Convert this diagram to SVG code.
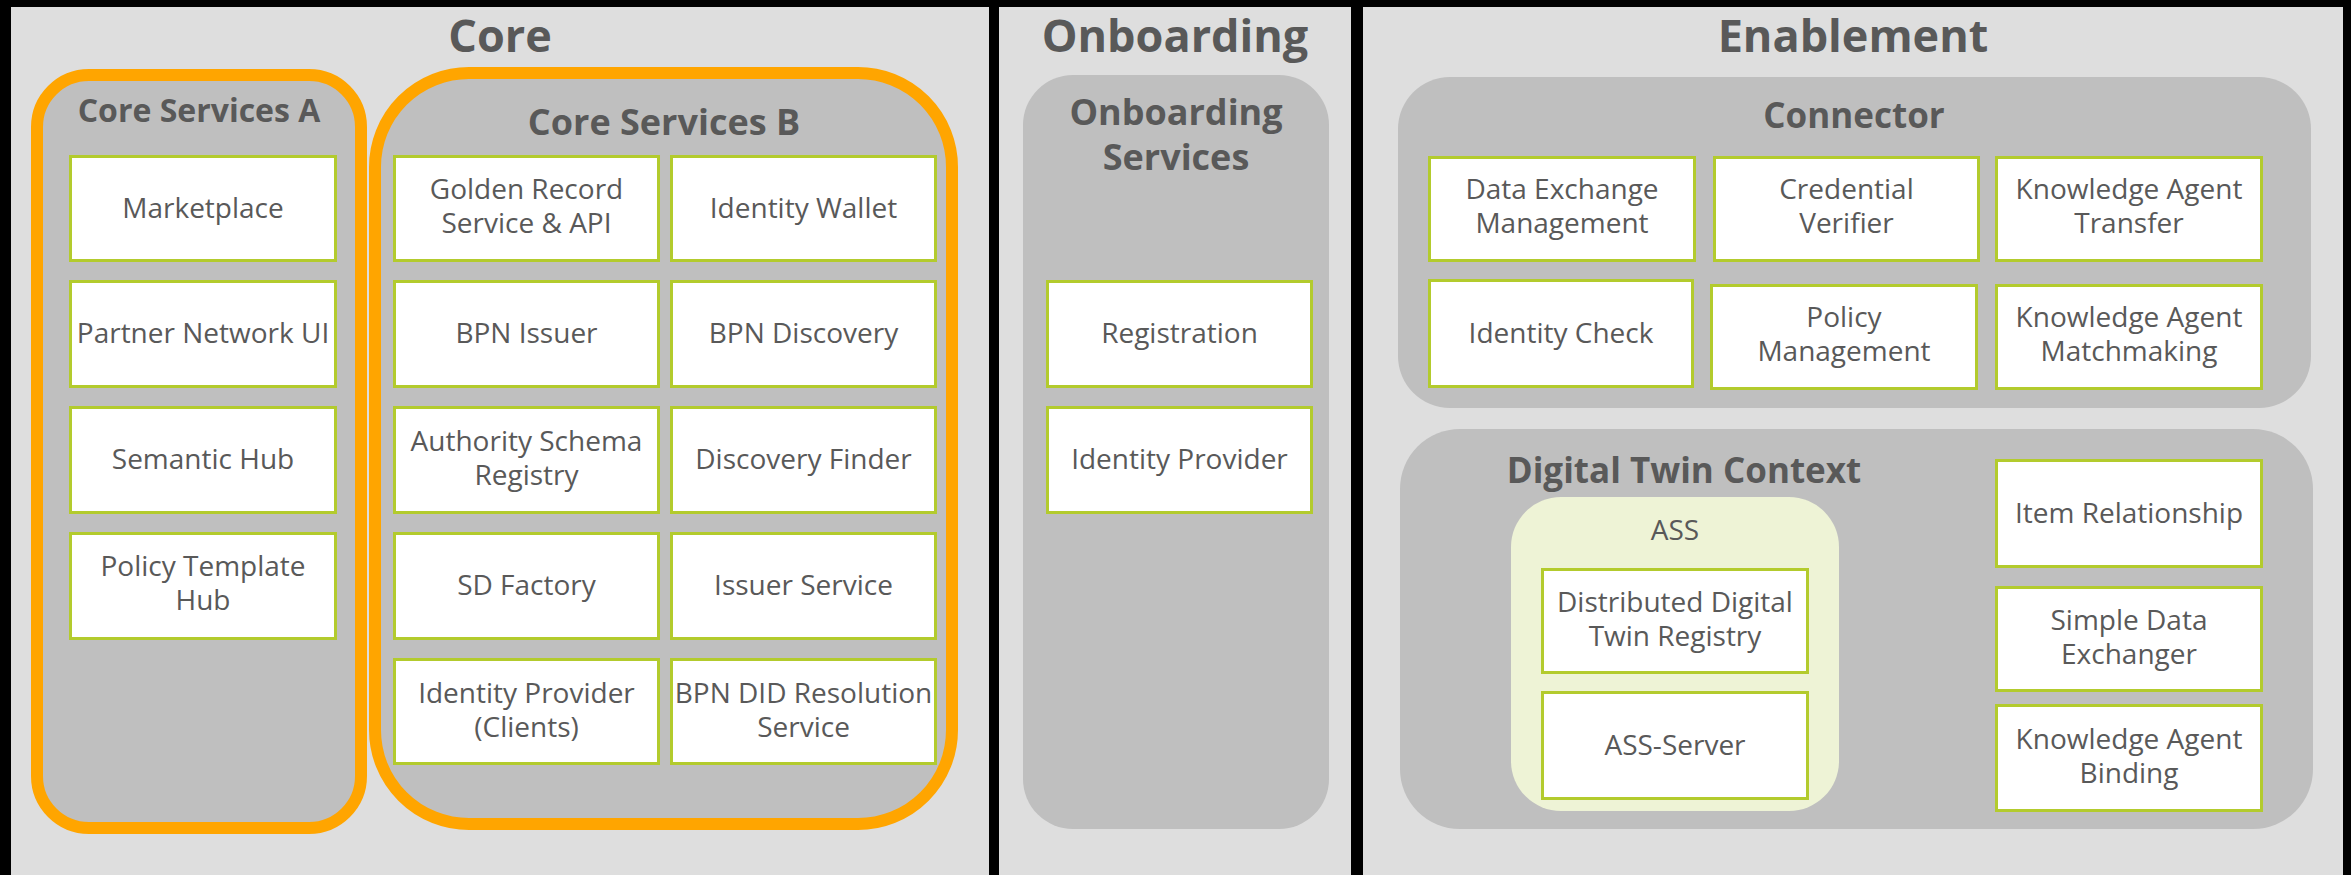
<svg xmlns="http://www.w3.org/2000/svg" width="2351" height="875" viewBox="0 0 2351 875">
<style>
.panel{fill:#DEDEDE}
.grp{fill:#BFBFBF}
.org{fill:#BFBFBF;stroke:#FFA500;stroke-width:12}
.ass{fill:#EEF3D6}
.box{fill:#FFFFFF;stroke:#B3CB2D;stroke-width:3}
text{font-family:"Open Sans","Liberation Sans",sans-serif;fill:#595959;text-anchor:middle}
.lbl{font-size:28px}
.h1{font-size:45px;font-weight:700}
.h2{font-size:35px;font-weight:700}
</style>
<rect x="0" y="0" width="2351" height="875" fill="#000"/>
<g id="panel-core">
<rect class="panel" x="11" y="7" width="978" height="868"/>
<text class="h1" x="500" y="52">Core</text>
</g>
<g id="panel-onboarding">
<rect class="panel" x="999" y="7" width="352" height="868"/>
<text class="h1" x="1175" y="52">Onboarding</text>
</g>
<g id="panel-enablement">
<rect class="panel" x="1363" y="7" width="980" height="868"/>
<text class="h1" x="1853" y="52">Enablement</text>
</g>
<g id="core-services-a">
<rect class="org" x="37" y="75" width="324" height="753" rx="52"/>
<text class="h2" x="199" y="122" style="font-size:32px">Core Services A</text>
</g>
<g id="core-services-b">
<rect class="org" x="375" y="73" width="577" height="751" rx="94"/>
<text class="h2" x="664" y="135" style="font-size:36px">Core Services B</text>
</g>
<g id="onboarding-services">
<rect class="grp" x="1023" y="75" width="306" height="754" rx="50"/>
<text class="h2" x="1176" y="125" style="font-size:36px">Onboarding</text>
<text class="h2" x="1176" y="170" style="font-size:36px">Services</text>
</g>
<g id="connector">
<rect class="grp" x="1398" y="77" width="913" height="331" rx="52"/>
<text class="h2" x="1854" y="128">Connector</text>
</g>
<g id="digital-twin-context">
<rect class="grp" x="1400" y="429" width="913" height="400" rx="60"/>
<text class="h2" x="1684" y="483">Digital Twin Context</text>
</g>
<g id="ass">
<rect class="ass" x="1511" y="497" width="328" height="314" rx="50"/>
<text class="lbl" x="1675" y="540">ASS</text>
</g>

<g id="marketplace"><rect class="box" x="70.5" y="156.5" width="265" height="104"/><text class="lbl" x="203" y="217.5">Marketplace</text></g>
<g id="partner-network-ui"><rect class="box" x="70.5" y="281.5" width="265" height="105"/><text class="lbl" x="203" y="343">Partner Network UI</text></g>
<g id="semantic-hub"><rect class="box" x="70.5" y="407.5" width="265" height="105"/><text class="lbl" x="203" y="469">Semantic Hub</text></g>
<g id="policy-template-hub"><rect class="box" x="70.5" y="533.5" width="265" height="105"/><text class="lbl" x="203" y="576">Policy Template</text><text class="lbl" x="203" y="610">Hub</text></g>

<g id="golden-record"><rect class="box" x="394.5" y="156.5" width="264" height="104"/><text class="lbl" x="526.5" y="198.5">Golden Record</text><text class="lbl" x="526.5" y="232.5">Service &amp; API</text></g>
<g id="identity-wallet"><rect class="box" x="671.5" y="156.5" width="264" height="104"/><text class="lbl" x="803.5" y="217.5">Identity Wallet</text></g>
<g id="bpn-issuer"><rect class="box" x="394.5" y="281.5" width="264" height="105"/><text class="lbl" x="526.5" y="343">BPN Issuer</text></g>
<g id="bpn-discovery"><rect class="box" x="671.5" y="281.5" width="264" height="105"/><text class="lbl" x="803.5" y="343">BPN Discovery</text></g>
<g id="authority-schema-registry"><rect class="box" x="394.5" y="407.5" width="264" height="105"/><text class="lbl" x="526.5" y="451">Authority Schema</text><text class="lbl" x="526.5" y="485">Registry</text></g>
<g id="discovery-finder"><rect class="box" x="671.5" y="407.5" width="264" height="105"/><text class="lbl" x="803.5" y="469">Discovery Finder</text></g>
<g id="sd-factory"><rect class="box" x="394.5" y="533.5" width="264" height="105"/><text class="lbl" x="526.5" y="595">SD Factory</text></g>
<g id="issuer-service"><rect class="box" x="671.5" y="533.5" width="264" height="105"/><text class="lbl" x="803.5" y="595">Issuer Service</text></g>
<g id="identity-provider-clients"><rect class="box" x="394.5" y="659.5" width="264" height="104"/><text class="lbl" x="526.5" y="702.5">Identity Provider</text><text class="lbl" x="526.5" y="736.5">(Clients)</text></g>
<g id="bpn-did-resolution"><rect class="box" x="671.5" y="659.5" width="264" height="104"/><text class="lbl" x="803.5" y="702.5">BPN DID Resolution</text><text class="lbl" x="803.5" y="736.5">Service</text></g>

<g id="registration"><rect class="box" x="1047.5" y="281.5" width="264" height="105"/><text class="lbl" x="1179.5" y="343">Registration</text></g>
<g id="identity-provider"><rect class="box" x="1047.5" y="407.5" width="264" height="105"/><text class="lbl" x="1179.5" y="469">Identity Provider</text></g>

<g id="data-exchange-management"><rect class="box" x="1429.5" y="157.5" width="265" height="103"/><text class="lbl" x="1562" y="199">Data Exchange</text><text class="lbl" x="1562" y="233">Management</text></g>
<g id="credential-verifier"><rect class="box" x="1714.5" y="157.5" width="264" height="103"/><text class="lbl" x="1846.5" y="199">Credential</text><text class="lbl" x="1846.5" y="233">Verifier</text></g>
<g id="knowledge-agent-transfer"><rect class="box" x="1996.5" y="157.5" width="265" height="103"/><text class="lbl" x="2129" y="199">Knowledge Agent</text><text class="lbl" x="2129" y="233">Transfer</text></g>
<g id="identity-check"><rect class="box" x="1429.5" y="280.5" width="263" height="106"/><text class="lbl" x="1561" y="342.5">Identity Check</text></g>
<g id="policy-management"><rect class="box" x="1711.5" y="285.5" width="265" height="103"/><text class="lbl" x="1844" y="327">Policy</text><text class="lbl" x="1844" y="361">Management</text></g>
<g id="knowledge-agent-matchmaking"><rect class="box" x="1996.5" y="285.5" width="265" height="103"/><text class="lbl" x="2129" y="327">Knowledge Agent</text><text class="lbl" x="2129" y="361">Matchmaking</text></g>

<g id="distributed-digital-twin-registry"><rect class="box" x="1542.5" y="569.5" width="265" height="103"/><text class="lbl" x="1675" y="612">Distributed Digital</text><text class="lbl" x="1675" y="646">Twin Registry</text></g>
<g id="ass-server"><rect class="box" x="1542.5" y="692.5" width="265" height="106"/><text class="lbl" x="1675" y="754.5">ASS-Server</text></g>
<g id="item-relationship"><rect class="box" x="1996.5" y="460.5" width="265" height="106"/><text class="lbl" x="2129" y="522.5">Item Relationship</text></g>
<g id="simple-data-exchanger"><rect class="box" x="1996.5" y="587.5" width="265" height="103"/><text class="lbl" x="2129" y="630">Simple Data</text><text class="lbl" x="2129" y="664">Exchanger</text></g>
<g id="knowledge-agent-binding"><rect class="box" x="1996.5" y="705.5" width="265" height="105"/><text class="lbl" x="2129" y="749">Knowledge Agent</text><text class="lbl" x="2129" y="783">Binding</text></g>

<g id="connectors"></g>
</svg>
